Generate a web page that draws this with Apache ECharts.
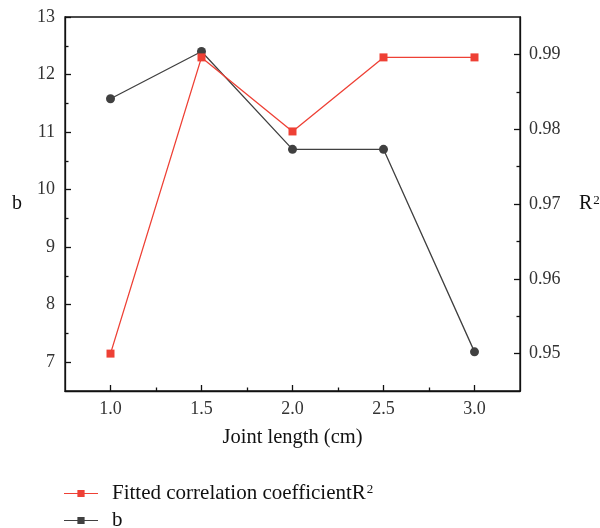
<!DOCTYPE html>
<html>
<head>
<meta charset="utf-8">
<script src="https://cdn.jsdelivr.net/npm/echarts@6/dist/echarts.min.js"></script>
<style>html,body{margin:0;padding:0;background:#fff}#c{width:600px;height:528px}</style>
</head>
<body>
<div id="c"></div>
<script>
const jointLength = [1.0, 1.5, 2.0, 2.5, 3.0];
const bValues = [11.58, 12.40, 10.70, 10.70, 7.18];
const r2Values = [0.9500, 0.9896, 0.9797, 0.9896, 0.9896];
const xMajorTicks = [1.0, 1.5, 2.0, 2.5, 3.0];
const xMinorTicks = [1.25, 1.75, 2.25, 2.75];
const bMajorTicks = [7, 8, 9, 10, 11, 12, 13];
const bMinorTicks = [7.5, 8.5, 9.5, 10.5, 11.5, 12.5];
const r2MajorTicks = [0.95, 0.96, 0.97, 0.98, 0.99];
const r2MinorTicks = [0.955, 0.965, 0.975, 0.985];

const FONT = 'Liberation Serif';
const RED = '#ee4035';
const DARK = '#404040';
const lab = {fontFamily: FONT, fontSize: 18, color: '#333'};
const R2_NAME = 'Fitted correlation coefficientR\u00B2';

const chart = echarts.init(document.getElementById('c'), null, {renderer: 'canvas'});
const legendIcon = 'path://M0,4.4 L13,4.4 L13,5.6 L0,5.6 Z M13,1.5 L20,1.5 L20,8.5 L13,8.5 Z M20,4.4 L33,4.4 L33,5.6 L20,5.6 Z';

chart.setOption({
  animation: false,
  backgroundColor: '#fff',
  grid: {left: 65, right: 80, top: 17, bottom: 137, outerBoundsMode: 'none', containLabel: false,
    show: true, borderColor: '#111', borderWidth: 1.3, backgroundColor: 'transparent'},
  legend: {
    orient: 'vertical', left: 64, top: 483, height: 80, padding: 0, itemWidth: 34, itemHeight: 9, itemGap: 6,
    data: [
      {name: R2_NAME, icon: legendIcon},
      {name: 'b', icon: legendIcon}
    ],
    formatter: n => n === R2_NAME ? 'Fitted correlation coefficientR{s|2}' : n,
    textStyle: {fontFamily: FONT, fontSize: 21, color: '#111', padding: [0, 0, 0, 9],
      rich: {s: {fontFamily: FONT, fontSize: 13, color: '#111', verticalAlign: 'top', padding: [0, 0, 0, 1]}}}
  },
  xAxis: [
    {
      type: 'value', min: 0.75, max: 3.25, position: 'bottom',
      name: 'Joint length (cm)', nameLocation: 'middle', nameGap: 36,
      nameTextStyle: {fontFamily: FONT, fontSize: 20.5, color: '#111'},
      axisLine: {show: true, lineStyle: {color: '#111', width: 1.3}},
      axisTick: {show: true, inside: true, length: 6, customValues: xMajorTicks, lineStyle: {color: '#111', width: 1.3}},
      axisLabel: Object.assign({customValues: xMajorTicks, margin: 9, formatter: v => v.toFixed(1)}, lab),
      splitLine: {show: false}
    },
    {
      type: 'value', min: 0.75, max: 3.25, position: 'bottom',
      axisLine: {show: false},
      axisTick: {show: true, inside: true, length: 3.5, customValues: xMinorTicks, lineStyle: {color: '#111', width: 1.3}},
      axisLabel: {show: false},
      splitLine: {show: false}
    }
  ],
  yAxis: [
    {
      type: 'value', min: 6.5, max: 13, position: 'left',
      name: 'b', nameLocation: 'middle', nameGap: 43, nameRotate: 0,
      nameTextStyle: {fontFamily: FONT, fontSize: 20, color: '#111'},
      axisLine: {show: true, lineStyle: {color: '#111', width: 1.3}},
      axisTick: {show: true, inside: true, length: 6, customValues: bMajorTicks, lineStyle: {color: '#111', width: 1.3}},
      axisLabel: Object.assign({customValues: bMajorTicks, margin: 10}, lab),
      splitLine: {show: false}
    },
    {
      type: 'value', min: 0.945, max: 0.995, position: 'right',
      name: 'R{s|2}', nameLocation: 'middle', nameGap: 59, nameRotate: 0,
      nameTextStyle: {fontFamily: FONT, fontSize: 20, color: '#111', align: 'left',
        rich: {s: {fontFamily: FONT, fontSize: 13, color: '#111', verticalAlign: 'top', padding: [0, 0, 0, 1]}}},
      axisLine: {show: true, lineStyle: {color: '#111', width: 1.3}},
      axisTick: {show: true, inside: true, length: 6, customValues: r2MajorTicks, lineStyle: {color: '#111', width: 1.3}},
      axisLabel: Object.assign({customValues: r2MajorTicks, margin: 9, formatter: v => v.toFixed(2)}, lab),
      splitLine: {show: false}
    },
    {
      type: 'value', min: 6.5, max: 13, position: 'left',
      axisLine: {show: false},
      axisTick: {show: true, inside: true, length: 3.5, customValues: bMinorTicks, lineStyle: {color: '#111', width: 1.3}},
      axisLabel: {show: false}, splitLine: {show: false}
    },
    {
      type: 'value', min: 0.945, max: 0.995, position: 'right',
      axisLine: {show: false},
      axisTick: {show: true, inside: true, length: 3.5, customValues: r2MinorTicks, lineStyle: {color: '#111', width: 1.3}},
      axisLabel: {show: false}, splitLine: {show: false}
    }
  ],
  series: [
    {
      name: 'b', type: 'line', xAxisIndex: 0, yAxisIndex: 0,
      data: jointLength.map((x, i) => [x, bValues[i]]),
      symbol: 'circle', symbolSize: 9,
      lineStyle: {color: DARK, width: 1.3}, itemStyle: {color: DARK},
      z: 2
    },
    {
      name: R2_NAME, type: 'line', xAxisIndex: 0, yAxisIndex: 1,
      data: jointLength.map((x, i) => [x, r2Values[i]]),
      symbol: 'rect', symbolSize: 8,
      lineStyle: {color: RED, width: 1.3}, itemStyle: {color: RED},
      z: 3
    }
  ]
});
</script>
</body>
</html>
